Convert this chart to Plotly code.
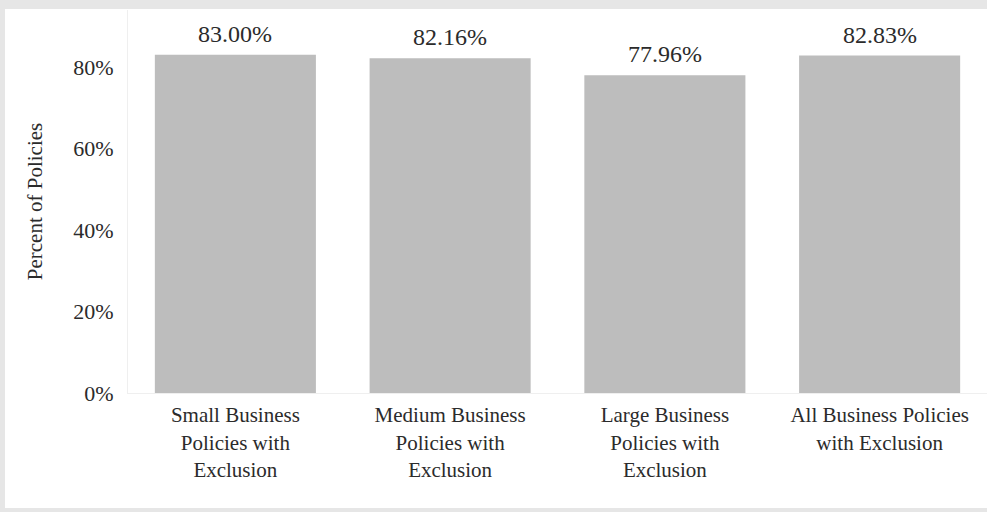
import plotly.graph_objects as go

categories = [
    "Small Business<br>Policies with<br>Exclusion",
    "Medium Business<br>Policies with<br>Exclusion",
    "Large Business<br>Policies with<br>Exclusion",
    "All Business Policies<br>with Exclusion",
]
values = [83.00, 82.16, 77.96, 82.83]
tick_vals = [0, 20, 40, 60, 80]
tick_text = ["0%", "20%", "40%", "60%", "80%"]

FONT = "'Liberation Serif', 'Times New Roman', 'DejaVu Serif', serif"
TXT = "#2b2b2b"

W, H = 987, 512
L, R, T, B = 128, 0, 10, 119
pw = W - L - R
ph = H - T - B

fig = go.Figure()
fig.add_trace(go.Bar(
    x=categories, y=values,
    marker=dict(color="#bdbdbd", line=dict(width=0)),
    width=0.75,
    hoverinfo="skip",
))

for c, v in zip(categories, values):
    fig.add_annotation(
        x=c, y=v, text=f"{v:.2f}%", showarrow=False,
        yanchor="bottom", yshift=6,
        font=dict(family=FONT, size=24, color=TXT),
    )

# white panel over gray frame
fig.add_shape(
    type="rect", xref="paper", yref="paper", layer="below",
    x0=(5 - L) / pw, x1=1.01, y0=(H - B - 508) / ph, y1=(H - B - 9) / ph,
    fillcolor="white", line=dict(width=0),
)

fig.update_layout(
    width=W, height=H,
    margin=dict(l=L, r=R, t=T, b=B, pad=0),
    paper_bgcolor="#e6e6e6",
    plot_bgcolor="white",
    showlegend=False,
    bargap=0.25,
    font=dict(family=FONT, size=21, color=TXT),
)
fig.update_yaxes(
    range=[0, 94],
    tickvals=tick_vals, ticktext=tick_text,
    showgrid=False, zeroline=False,
    showline=True, linecolor="#efefef", linewidth=1,
    ticks="", ticklabelstandoff=9,
    tickfont=dict(family=FONT, size=22, color=TXT),
    title=dict(text="Percent of Policies", standoff=24,
               font=dict(family=FONT, size=21, color=TXT)),
)
fig.update_xaxes(
    showgrid=False, zeroline=False,
    showline=True, linecolor="#efefef", linewidth=1,
    ticks="", ticklabelstandoff=3,
    tickfont=dict(family=FONT, size=21, color=TXT),
)

fig.write_html(
    "out.html",
    config={"displayModeBar": False},
    post_script="document.body.style.margin='0';document.body.style.overflow='hidden';",
)
